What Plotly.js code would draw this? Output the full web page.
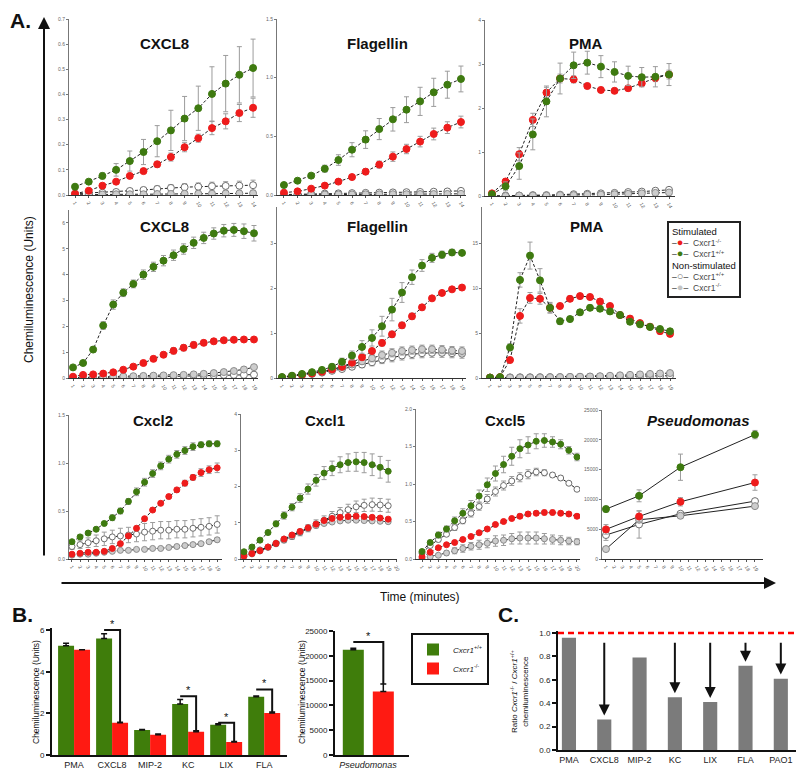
<!DOCTYPE html>
<html>
<head>
<meta charset="utf-8">
<script src="https://cdn.plot.ly/plotly-3.0.1.min.js"></script>
<style>body{margin:0;background:#fff}#chart{width:800px;height:777px}</style>
</head>
<body>
<div id="chart"></div>
<script>
// ---------- time points ----------
const t14 = [1,2,3,4,5,6,7,8,9,10,11,12,13,14];
const t19 = [1,2,3,4,5,6,7,8,9,10,11,12,13,14,15,16,17,18,19];
const t20 = [1,2,3,4,5,6,7,8,9,10,11,12,13,14,15,16,17,18,19,20];
const tPseudo = [1,5,10,19];

// ---------- A, top row (14 min) ----------
const topCxcl8Red    = [0.005,0.017,0.037,0.053,0.076,0.095,0.122,0.151,0.190,0.226,0.266,0.293,0.326,0.347];
const topCxcl8RedErr = [0.003,0.004,0.005,0.006,0.008,0.010,0.012,0.016,0.018,0.016,0.026,0.030,0.034,0.038];
const topCxcl8Grn    = [0.033,0.053,0.076,0.100,0.135,0.171,0.214,0.257,0.304,0.345,0.402,0.443,0.478,0.505];
const topCxcl8GrnErr = [0.006,0.008,0.012,0.025,0.040,0.050,0.062,0.080,0.088,0.088,0.108,0.112,0.112,0.115];
const topCxcl8Wht    = [0.005,0.008,0.009,0.012,0.016,0.020,0.024,0.028,0.031,0.033,0.035,0.036,0.037,0.039];
const topCxcl8WhtErr = [0.003,0.004,0.005,0.006,0.008,0.010,0.012,0.013,0.014,0.015,0.016,0.017,0.018,0.020];
const topCxcl8Gry    = [0.001,0.002,0.002,0.003,0.003,0.003,0.004,0.004,0.005,0.005,0.005,0.006,0.006,0.007];
const topCxcl8GryErr = [0.001,0.001,0.001,0.002,0.002,0.002,0.002,0.002,0.003,0.003,0.003,0.003,0.003,0.003];

const topFlaRed    = [0.020,0.031,0.054,0.080,0.114,0.153,0.199,0.259,0.327,0.392,0.455,0.520,0.574,0.622];
const topFlaRedErr = [0.005,0.008,0.010,0.012,0.015,0.020,0.025,0.030,0.040,0.040,0.045,0.050,0.050,0.050];
const topFlaGrn    = [0.085,0.122,0.165,0.224,0.298,0.386,0.472,0.562,0.645,0.727,0.798,0.875,0.940,0.989];
const topFlaGrnErr = [0.010,0.015,0.020,0.030,0.045,0.060,0.075,0.090,0.100,0.110,0.120,0.120,0.115,0.110];
const topFlaWht    = [0.004,0.007,0.010,0.012,0.014,0.016,0.018,0.020,0.022,0.024,0.026,0.028,0.030,0.035];
const topFlaWhtErr = [0.003,0.004,0.005,0.006,0.007,0.008,0.009,0.010,0.011,0.012,0.013,0.014,0.015,0.016];
const topFlaGry    = [0.001,0.002,0.003,0.004,0.005,0.005,0.006,0.006,0.007,0.007,0.008,0.008,0.009,0.010];
const topFlaGryErr = [0.001,0.001,0.002,0.002,0.002,0.003,0.003,0.003,0.003,0.004,0.004,0.004,0.004,0.005];

const topPmaRed    = [0.06,0.33,0.95,1.73,2.35,2.67,2.65,2.50,2.41,2.39,2.45,2.56,2.68,2.76];
const topPmaRedErr = [0.02,0.06,0.15,0.15,0.12,0.10,0.08,0.06,0.06,0.06,0.06,0.06,0.08,0.10];
const topPmaGrn    = [0.04,0.22,0.68,1.40,2.15,2.67,2.97,3.03,2.94,2.82,2.73,2.70,2.71,2.76];
const topPmaGrnErr = [0.02,0.10,0.30,0.35,0.35,0.35,0.30,0.26,0.25,0.23,0.22,0.22,0.23,0.25];
const topPmaWht    = [0.00,0.01,0.01,0.02,0.02,0.03,0.04,0.05,0.06,0.07,0.09,0.10,0.12,0.14];
const topPmaWhtErr = [0.01,0.01,0.01,0.01,0.01,0.02,0.02,0.02,0.02,0.02,0.03,0.03,0.03,0.04];
const topPmaGry    = [0.00,0.00,0.01,0.01,0.01,0.02,0.02,0.03,0.03,0.04,0.05,0.06,0.07,0.08];
const topPmaGryErr = [0.01,0.01,0.01,0.01,0.01,0.01,0.01,0.01,0.02,0.02,0.02,0.02,0.02,0.02];

// ---------- A, middle row (19 min) ----------
const midCxcl8Red    = [0.05,0.12,0.14,0.17,0.22,0.32,0.44,0.58,0.74,0.90,1.05,1.17,1.28,1.36,1.42,1.46,1.48,1.49,1.49];
const midCxcl8RedErr = [0.02,0.03,0.03,0.04,0.05,0.06,0.07,0.08,0.10,0.10,0.12,0.12,0.12,0.10,0.10,0.08,0.08,0.06,0.06];
const midCxcl8Grn    = [0.41,0.58,1.10,2.03,2.84,3.30,3.64,4.00,4.30,4.54,4.75,4.99,5.23,5.42,5.59,5.70,5.73,5.68,5.60];
const midCxcl8GrnErr = [0.05,0.05,0.10,0.15,0.18,0.15,0.15,0.18,0.18,0.20,0.20,0.20,0.22,0.22,0.22,0.24,0.25,0.28,0.30];
const midCxcl8Wht    = [0.00,0.01,0.01,0.02,0.02,0.03,0.04,0.04,0.05,0.06,0.07,0.08,0.09,0.10,0.11,0.12,0.12,0.12,0.13];
const midCxcl8WhtErr = [0.01,0.01,0.01,0.01,0.01,0.02,0.02,0.02,0.02,0.02,0.02,0.02,0.03,0.03,0.03,0.03,0.03,0.03,0.03];
const midCxcl8Gry    = [0.01,0.02,0.03,0.04,0.05,0.06,0.07,0.08,0.09,0.10,0.11,0.12,0.14,0.16,0.19,0.23,0.27,0.33,0.42];
const midCxcl8GryErr = [0.01,0.01,0.01,0.01,0.01,0.01,0.02,0.02,0.02,0.02,0.02,0.02,0.03,0.03,0.03,0.03,0.04,0.04,0.04];

const midFlaRed    = [0.01,0.04,0.07,0.10,0.14,0.19,0.25,0.34,0.46,0.60,0.78,0.97,1.17,1.37,1.57,1.77,1.89,1.97,2.01];
const midFlaRedErr = [0.01,0.01,0.02,0.02,0.02,0.03,0.03,0.04,0.05,0.06,0.07,0.07,0.07,0.07,0.06,0.05,0.05,0.04,0.04];
const midFlaGrn    = [0.02,0.05,0.09,0.13,0.18,0.25,0.36,0.50,0.69,0.89,1.15,1.52,1.90,2.24,2.50,2.67,2.74,2.79,2.78];
const midFlaGrnErr = [0.02,0.02,0.03,0.03,0.04,0.06,0.08,0.10,0.14,0.18,0.22,0.25,0.22,0.16,0.13,0.10,0.08,0.07,0.05];
const midFlaWht    = [0.01,0.04,0.06,0.09,0.12,0.16,0.20,0.25,0.30,0.35,0.41,0.46,0.50,0.53,0.55,0.56,0.56,0.55,0.54];
const midFlaWhtErr = [0.01,0.01,0.02,0.02,0.03,0.04,0.05,0.06,0.07,0.08,0.09,0.10,0.10,0.10,0.10,0.10,0.10,0.10,0.10];
const midFlaGry    = [0.02,0.05,0.08,0.11,0.15,0.19,0.24,0.30,0.37,0.44,0.51,0.56,0.60,0.62,0.64,0.64,0.63,0.61,0.60];
const midFlaGryErr = [0.01,0.01,0.02,0.02,0.03,0.04,0.05,0.06,0.07,0.08,0.09,0.09,0.09,0.09,0.09,0.09,0.09,0.09,0.09];

const midPmaRed    = [0.05,0.10,2.00,6.90,8.90,8.80,7.80,8.00,8.80,9.10,9.00,8.50,8.00,7.00,6.60,6.10,5.70,5.20,4.90];
const midPmaRedErr = [0.05,0.10,0.30,0.80,0.60,0.60,0.50,0.30,0.30,0.30,0.30,0.30,0.30,0.30,0.30,0.30,0.30,0.30,0.30];
const midPmaGrn    = [0.05,0.10,3.40,10.90,13.60,10.85,7.80,6.30,6.55,7.30,7.80,7.70,7.40,7.00,6.25,5.96,5.67,5.44,5.19];
const midPmaGrnErr = [0.05,0.10,0.40,0.80,1.50,1.30,0.60,0.35,0.30,0.30,0.30,0.30,0.30,0.30,0.30,0.30,0.30,0.30,0.30];
const midPmaWht    = [0.05,0.06,0.07,0.08,0.08,0.09,0.10,0.10,0.11,0.12,0.13,0.14,0.15,0.16,0.17,0.18,0.20,0.22,0.25];
const midPmaWhtErr = [0.05,0.05,0.05,0.05,0.05,0.05,0.05,0.05,0.05,0.05,0.05,0.05,0.05,0.05,0.05,0.05,0.05,0.05,0.05];
const midPmaGry    = [0.00,0.02,0.04,0.05,0.06,0.07,0.09,0.10,0.12,0.14,0.17,0.20,0.25,0.30,0.35,0.40,0.45,0.50,0.55];
const midPmaGryErr = [0.05,0.05,0.05,0.05,0.05,0.05,0.05,0.05,0.05,0.05,0.06,0.06,0.06,0.07,0.07,0.08,0.08,0.09,0.10];

// ---------- A, bottom row ----------
const cxcl2Red    = [0.05,0.06,0.07,0.07,0.08,0.11,0.16,0.24,0.32,0.42,0.51,0.58,0.65,0.72,0.79,0.85,0.90,0.93,0.95];
const cxcl2RedErr = [0.01,0.01,0.01,0.01,0.01,0.02,0.02,0.02,0.02,0.02,0.02,0.02,0.02,0.02,0.03,0.03,0.04,0.04,0.05];
const cxcl2Grn    = [0.18,0.23,0.27,0.31,0.37,0.43,0.50,0.60,0.70,0.80,0.89,0.97,1.04,1.09,1.13,1.17,1.19,1.20,1.20];
const cxcl2GrnErr = [0.01,0.02,0.02,0.02,0.02,0.03,0.03,0.03,0.04,0.04,0.04,0.04,0.04,0.04,0.04,0.04,0.03,0.03,0.03];
const cxcl2Wht    = [0.13,0.15,0.17,0.19,0.21,0.23,0.24,0.25,0.26,0.28,0.29,0.30,0.30,0.31,0.31,0.32,0.33,0.34,0.36];
const cxcl2WhtErr = [0.03,0.04,0.05,0.06,0.07,0.07,0.08,0.08,0.08,0.09,0.09,0.09,0.09,0.09,0.09,0.09,0.09,0.09,0.09];
const cxcl2Gry    = [0.04,0.05,0.05,0.06,0.07,0.08,0.09,0.09,0.10,0.10,0.11,0.11,0.12,0.13,0.14,0.15,0.16,0.18,0.20];
const cxcl2GryErr = [0.005,0.005,0.005,0.005,0.006,0.006,0.007,0.007,0.008,0.008,0.009,0.009,0.01,0.01,0.01,0.012,0.014,0.016,0.02];

const cxcl1Red    = [0.08,0.15,0.23,0.33,0.43,0.55,0.66,0.76,0.86,0.96,1.06,1.12,1.15,1.17,1.18,1.17,1.15,1.13,1.10];
const cxcl1RedErr = [0.02,0.02,0.02,0.03,0.03,0.03,0.04,0.04,0.04,0.05,0.05,0.05,0.05,0.05,0.05,0.05,0.05,0.05,0.05];
const cxcl1Grn    = [0.20,0.33,0.52,0.73,0.97,1.20,1.43,1.68,1.93,2.17,2.37,2.50,2.60,2.66,2.68,2.66,2.60,2.53,2.42];
const cxcl1GrnErr = [0.03,0.04,0.05,0.06,0.08,0.10,0.10,0.12,0.14,0.16,0.18,0.20,0.22,0.24,0.26,0.28,0.30,0.30,0.30];
const cxcl1Wht    = [0.12,0.17,0.25,0.33,0.42,0.52,0.62,0.73,0.85,0.97,1.07,1.18,1.28,1.36,1.44,1.48,1.50,1.49,1.47];
const cxcl1WhtErr = [0.03,0.03,0.04,0.05,0.06,0.07,0.08,0.09,0.10,0.11,0.12,0.13,0.14,0.15,0.16,0.17,0.18,0.18,0.18];
const cxcl1Gry    = [0.07,0.14,0.22,0.32,0.44,0.55,0.66,0.75,0.84,0.92,0.98,1.02,1.05,1.07,1.07,1.06,1.05,1.04,1.03];
const cxcl1GryErr = [0.02,0.02,0.02,0.03,0.03,0.03,0.03,0.03,0.03,0.03,0.03,0.03,0.03,0.03,0.03,0.03,0.03,0.03,0.03];

const cxcl5Red    = [0.03,0.09,0.15,0.19,0.22,0.26,0.30,0.35,0.40,0.46,0.50,0.54,0.57,0.60,0.61,0.62,0.62,0.61,0.60,0.57];
const cxcl5RedErr = [0.01,0.01,0.01,0.02,0.02,0.02,0.02,0.02,0.02,0.02,0.02,0.02,0.03,0.03,0.03,0.03,0.03,0.03,0.03,0.03];
const cxcl5Grn    = [0.10,0.22,0.32,0.40,0.51,0.61,0.71,0.84,0.99,1.14,1.26,1.37,1.47,1.52,1.57,1.58,1.56,1.53,1.45,1.36];
const cxcl5GrnErr = [0.02,0.03,0.04,0.04,0.05,0.06,0.07,0.08,0.09,0.10,0.11,0.12,0.12,0.11,0.10,0.09,0.07,0.06,0.05,0.05];
const cxcl5Wht    = [0.08,0.18,0.26,0.33,0.42,0.51,0.61,0.70,0.80,0.90,0.98,1.04,1.09,1.13,1.16,1.15,1.12,1.08,1.01,0.93];
const cxcl5WhtErr = [0.02,0.02,0.03,0.03,0.04,0.04,0.05,0.05,0.06,0.06,0.06,0.06,0.06,0.06,0.05,0.04,0.03,0.03,0.02,0.02];
const cxcl5Gry    = [0.01,0.03,0.05,0.08,0.11,0.14,0.17,0.19,0.21,0.24,0.25,0.27,0.28,0.28,0.28,0.27,0.26,0.25,0.24,0.23];
const cxcl5GryErr = [0.01,0.01,0.02,0.03,0.04,0.05,0.05,0.06,0.06,0.07,0.07,0.07,0.08,0.08,0.08,0.07,0.06,0.06,0.05,0.04];

const pseudoRed    = [4970,7140,9600,12830];
const pseudoRedErr = [800,900,700,1300];
const pseudoGrn    = [8370,10600,15400,20870];
const pseudoGrnErr = [500,1000,2200,700];
const pseudoWht    = [4020,5800,7590,9710];
const pseudoWhtErr = [900,2300,300,300];
const pseudoGry    = [1670,6580,7250,8870];
const pseudoGryErr = [300,300,300,300];

// ---------- B ----------
const bCats      = ["PMA","CXCL8","MIP-2","KC","LIX","FLA"];
const bGrn       = [5.25,5.60,1.20,2.45,1.45,2.80];
const bGrnErr    = [0.12,0.22,0.02,0.22,0.05,0.03];
const bRed       = [5.05,1.55,0.97,1.12,0.62,2.02];
const bRedErr    = [0.00,0.02,0.04,0.04,0.03,0.04];
const bSigIdx    = [1,3,4,5];
const bSigTop    = [6.0,2.82,1.55,3.15];
const bPseudoGrn = [21200];
const bPseudoGrnErr = [300];
const bPseudoRed = [12800];
const bPseudoRedErr = [1500];
const bPseudoSigTop = 22800;

// ---------- C ----------
const cCats  = ["PMA","CXCL8","MIP-2","KC","LIX","FLA","PAO1"];
const cRatio = [0.96,0.26,0.79,0.45,0.41,0.72,0.61];
const cArrowIdx = [1,3,4,5,6];
const cRef = 1.0;

// ---------- styling ----------
const FONT = "Liberation Sans, Arial, sans-serif";
const RED = "#ee1c1c", GREEN = "#3e7a10", GREYFILL = "#cdcdcd";
const W = 800, H = 777;
const xd = (a, b) => [a / W, b / W];
const yd = (top, bot) => [1 - bot / H, 1 - top / H];
const ax = n => (n === 1 ? "" : String(n));

const data = [];
const annotations = [];
const layout = {
  width: W, height: H, autosize: false,
  margin: {l: 0, r: 0, t: 0, b: 0},
  paper_bgcolor: "#fff", plot_bgcolor: "rgba(0,0,0,0)",
  font: {family: FONT, color: "#222"},
  showlegend: true,
  legend: {
    x: 411 / W, y: 1 - 633 / H, xanchor: "left", yanchor: "top",
    bordercolor: "#111", borderwidth: 2, bgcolor: "#fff",
    font: {size: 8, family: FONT, color: "#222"}, itemwidth: 30
  },
  annotations
};

// paper-anchored text helper
function label(x, y, text, size, extra) {
  annotations.push(Object.assign({
    xref: "paper", yref: "paper", x: x / W, y: 1 - y / H,
    xanchor: "center", yanchor: "middle", text, showarrow: false,
    font: {size, family: FONT, color: "#111"}
  }, extra || {}));
}

const timePanels = [
  {n: 1, title: "CXCL8", tx: 164, ty: 43, px: [69, 258], py: [19, 195], xr: [0.56, 14.36], yr: [0, 0.7], dt: 0.1, fmt: ".1f", t: t14, ms: 7,
   s: [topCxcl8Red, topCxcl8RedErr, topCxcl8Grn, topCxcl8GrnErr, topCxcl8Wht, topCxcl8WhtErr, topCxcl8Gry, topCxcl8GryErr]},
  {n: 2, title: "Flagellin", tx: 377, ty: 43, px: [277, 466], py: [19, 195], xr: [0.49, 14.37], yr: [0, 1.5], dt: 0.5, fmt: ".1f", t: t14, ms: 7,
   s: [topFlaRed, topFlaRedErr, topFlaGrn, topFlaGrnErr, topFlaWht, topFlaWhtErr, topFlaGry, topFlaGryErr]},
  {n: 3, title: "PMA", tx: 586, ty: 43, px: [485, 675], py: [20, 196], xr: [0.49, 14.44], yr: [0, 4], dt: 1, fmt: "d", t: t14, ms: 7,
   s: [topPmaRed, topPmaRedErr, topPmaGrn, topPmaGrnErr, topPmaWht, topPmaWhtErr, topPmaGry, topPmaGryErr]},
  {n: 4, title: "CXCL8", tx: 164, ty: 226, px: [69, 258], py: [210, 378], xr: [0.6, 19.4], yr: [0, 6.5], dt: 1, fmt: "d", t: t19, ms: 7,
   s: [midCxcl8Red, midCxcl8RedErr, midCxcl8Grn, midCxcl8GrnErr, midCxcl8Wht, midCxcl8WhtErr, midCxcl8Gry, midCxcl8GryErr]},
  {n: 5, title: "Flagellin", tx: 377, ty: 226, px: [277, 466], py: [207, 378], xr: [0.5, 19.4], yr: [0, 3.8], dt: 1, fmt: "d", t: t19, ms: 7,
   s: [midFlaRed, midFlaRedErr, midFlaGrn, midFlaGrnErr, midFlaWht, midFlaWhtErr, midFlaGry, midFlaGryErr]},
  {n: 6, title: "PMA", tx: 587, ty: 226, px: [482, 676], py: [207, 378], xr: [0.2, 19.6], yr: [0, 19], dt: 5, fmt: "d", t: t19, ms: 7,
   s: [midPmaRed, midPmaRedErr, midPmaGrn, midPmaGrnErr, midPmaWht, midPmaWhtErr, midPmaGry, midPmaGryErr]},
  {n: 7, title: "Cxcl2", tx: 153, ty: 421, px: [69, 222], py: [415, 559], xr: [0.63, 19.6], yr: [0, 1.5], dt: 0.5, fmt: ".1f", t: t19, ms: 6,
   s: [cxcl2Red, cxcl2RedErr, cxcl2Grn, cxcl2GrnErr, cxcl2Wht, cxcl2WhtErr, cxcl2Gry, cxcl2GryErr]},
  {n: 8, title: "Cxcl1", tx: 325, ty: 421, px: [241, 397], py: [414, 559], xr: [0.63, 20.1], yr: [0, 4], dt: 1, fmt: "d", t: t19, ms: 6,
   s: [cxcl1Red, cxcl1RedErr, cxcl1Grn, cxcl1GrnErr, cxcl1Wht, cxcl1WhtErr, cxcl1Gry, cxcl1GryErr]},
  {n: 9, title: "Cxcl5", tx: 505, ty: 421, px: [416, 580], py: [409, 559], xr: [0.26, 20.37], yr: [0, 2], dt: 0.5, fmt: ".1f", t: t20, ms: 6,
   s: [cxcl5Red, cxcl5RedErr, cxcl5Grn, cxcl5GrnErr, cxcl5Wht, cxcl5WhtErr, cxcl5Gry, cxcl5GryErr]},
  {n: 10, title: "<i>Pseudomonas</i>", tx: 698, ty: 421, px: [602, 763], py: [410, 559], xr: [0.52, 19.97], yr: [0, 25000], dt: 5000, fmt: "d", t: tPseudo, ms: 7, solid: true,
   s: [pseudoRed, pseudoRedErr, pseudoGrn, pseudoGrnErr, pseudoWht, pseudoWhtErr, pseudoGry, pseudoGryErr]}
];

const groups = [
  // [series index, fill, outline]
  [4, "#ffffff", "#6d6d6d"],
  [6, GREYFILL, "#8a8a8a"],
  [0, RED, RED],
  [2, GREEN, GREEN]
];

timePanels.forEach(p => {
  const k = ax(p.n);
  groups.forEach(g => {
    data.push({
      type: "scatter", mode: "lines+markers",
      x: p.t, y: p.s[g[0]],
      xaxis: "x" + k, yaxis: "y" + k,
      line: {color: "#222", width: 1, dash: p.solid ? "solid" : "3px,2px"},
      marker: {size: p.ms, color: g[1], line: {color: g[2], width: 1}},
      error_y: {type: "data", array: p.s[g[0] + 1], color: "#9c9c9c", thickness: 1, width: 2.5},
      showlegend: false, hoverinfo: "skip"
    });
  });
  layout["xaxis" + k] = {
    domain: xd(p.px[0], p.px[1]), range: p.xr, anchor: "y" + k,
    showline: true, linecolor: "#333", linewidth: 1, zeroline: false, showgrid: false,
    ticks: "outside", ticklen: 2, tickcolor: "#555",
    tickmode: "linear", tick0: 1, dtick: 1, tickangle: 60,
    tickfont: {size: 5, color: "#555"}
  };
  layout["yaxis" + k] = {
    domain: yd(p.py[0], p.py[1]), range: p.yr, anchor: "x" + k,
    showline: true, linecolor: "#777", linewidth: 1, zeroline: false, showgrid: false,
    ticks: "outside", ticklen: 2, tickcolor: "#777",
    tickmode: "linear", tick0: 0, dtick: p.dt, tickformat: p.fmt,
    tickfont: {size: 5, color: "#666"}
  };
  label(p.tx, p.ty, "<b>" + p.title + "</b>", 15);
});

// key for the time courses (boxed annotation)
const key = (c, glyph) => '<span style="color:#333">–</span><span style="color:' + c + ';font-size:11px">' + glyph +
  '</span><span style="color:#333">–</span>';
label(667, 221, [
  '<span style="font-size:9.5px">Stimulated</span>',
  key(RED, "●") + '  <span style="color:#444">Cxcr1<sup>-/-</sup></span>',
  key(GREEN, "●") + '  <span style="color:#444">Cxcr1<sup>+/+</sup></span>',
  '<span style="font-size:9.5px">Non-stimulated</span>',
  key("#777", "○") + '  <span style="color:#444">Cxcr1<sup>+/+</sup></span>',
  key("#c4c4c4", "●") + '  <span style="color:#444">Cxcr1<sup>-/-</sup></span>'
].join("<br>"), 8.6, {xanchor: "left", yanchor: "top", align: "left", bordercolor: "#222", borderwidth: 2, borderpad: 3, bgcolor: "#fff"});

// ---------- B: grouped bars ----------
const bX = bCats.map((c, i) => i);
const barErr = (arr, base) => ({type: "data", symmetric: false, array: arr, arrayminus: base.map(() => 0), color: "#111", thickness: 1.5, width: 3});
data.push({
  type: "bar", x: bX, y: bGrn, offset: -0.42, width: 0.42,
  xaxis: "x11", yaxis: "y11", marker: {color: "#3f7d0b"},
  error_y: barErr(bGrnErr, bGrn),
  name: "<i>Cxcr1</i><sup>+/+</sup>", hoverinfo: "skip"
});
data.push({
  type: "bar", x: bX, y: bRed, offset: 0, width: 0.42,
  xaxis: "x11", yaxis: "y11", marker: {color: "#ff1a12"},
  error_y: barErr(bRedErr, bRed),
  name: "<i>Cxcr1</i><sup>-/-</sup>", hoverinfo: "skip"
});
bSigIdx.forEach((i, j) => {
  data.push({
    type: "scatter", mode: "lines", xaxis: "x11", yaxis: "y11",
    x: [i - 0.21, i + 0.21, i + 0.21], y: [bSigTop[j], bSigTop[j], bRed[i] + bRedErr[i]],
    line: {color: "#111", width: 2}, showlegend: false, hoverinfo: "skip"
  });
  annotations.push({xref: "x11", yref: "y11", x: i, y: bSigTop[j], yshift: 6, xanchor: "center", yanchor: "middle",
    text: "*", showarrow: false, font: {size: 11, color: "#111"}});
});
layout.xaxis11 = {
  domain: xd(52, 287), range: [-0.58, 5.6], anchor: "y11",
  showline: true, linecolor: "#111", linewidth: 2, zeroline: false, showgrid: false,
  tickvals: bX, ticktext: bCats, ticks: "", tickfont: {size: 9, color: "#222"}
};
layout.yaxis11 = {
  domain: yd(628.4, 755), range: [0, 6.08], anchor: "x11",
  showline: true, linecolor: "#111", linewidth: 2, zeroline: false, showgrid: false,
  ticks: "outside", ticklen: 4, tickwidth: 2, tickcolor: "#111",
  tickmode: "linear", tick0: 0, dtick: 2, tickfont: {size: 8, color: "#222"}
};

// ---------- B: Pseudomonas bars ----------
data.push({
  type: "bar", x: [0], y: bPseudoGrn, offset: -0.42, width: 0.35,
  xaxis: "x12", yaxis: "y12", marker: {color: "#3f7d0b"},
  error_y: barErr(bPseudoGrnErr, bPseudoGrn), showlegend: false, hoverinfo: "skip"
});
data.push({
  type: "bar", x: [0], y: bPseudoRed, offset: 0.08, width: 0.35,
  xaxis: "x12", yaxis: "y12", marker: {color: "#ff1a12"},
  error_y: barErr(bPseudoRedErr, bPseudoRed), showlegend: false, hoverinfo: "skip"
});
data.push({
  type: "scatter", mode: "lines", xaxis: "x12", yaxis: "y12",
  x: [-0.245, 0.255, 0.255], y: [bPseudoSigTop, bPseudoSigTop, bPseudoRed[0] + bPseudoRedErr[0]],
  line: {color: "#111", width: 2}, showlegend: false, hoverinfo: "skip"
});
annotations.push({xref: "x12", yref: "y12", x: 0, y: bPseudoSigTop, yshift: 6, xanchor: "center", yanchor: "middle",
  text: "*", showarrow: false, font: {size: 11, color: "#111"}});
layout.xaxis12 = {
  domain: xd(335, 409), range: [-0.55, 0.683], anchor: "y12",
  showline: true, linecolor: "#111", linewidth: 2, zeroline: false, showgrid: false,
  tickvals: [0], ticktext: ["<i>Pseudomonas</i>"], ticks: "", tickfont: {size: 9, color: "#222"}
};
layout.yaxis12 = {
  domain: yd(631, 755), range: [0, 25000], anchor: "x12",
  showline: true, linecolor: "#111", linewidth: 2, zeroline: false, showgrid: false,
  ticks: "outside", ticklen: 4, tickwidth: 2, tickcolor: "#111",
  tickmode: "linear", tick0: 0, dtick: 5000, tickformat: "d", tickfont: {size: 8, color: "#222"}
};

// ---------- C ----------
const cX = cCats.map((c, i) => i);
const cRange = [-0.31, 6.43];
data.push({
  type: "bar", x: cX, y: cRatio, width: 0.4,
  xaxis: "x13", yaxis: "y13", marker: {color: "#7b7b7b"},
  showlegend: false, hoverinfo: "skip"
});
data.push({
  type: "scatter", mode: "lines", xaxis: "x13", yaxis: "y13",
  x: cRange, y: [cRef, cRef], line: {color: "#ff0000", width: 2.5, dash: "6px,4px"},
  showlegend: false, hoverinfo: "skip"
});
cArrowIdx.forEach(i => {
  annotations.push({
    xref: "x13", yref: "y13", axref: "x13", ayref: "y13",
    x: i, y: cRatio[i] + 0.035, ax: i, ay: 0.93,
    text: "", showarrow: true, arrowhead: 2, arrowsize: 1.1, arrowwidth: 2, arrowcolor: "#111"
  });
});
layout.xaxis13 = {
  domain: xd(558, 796), range: cRange, anchor: "y13",
  showline: true, linecolor: "#111", linewidth: 2, zeroline: false, showgrid: false,
  tickvals: cX, ticktext: cCats, ticks: "", tickfont: {size: 9, color: "#222"}
};
layout.yaxis13 = {
  domain: yd(630.7, 750), range: [0, 1.02], anchor: "x13",
  showline: true, linecolor: "#111", linewidth: 2, zeroline: false, showgrid: false,
  ticks: "outside", ticklen: 4, tickwidth: 2, tickcolor: "#111",
  tickmode: "linear", tick0: 0, dtick: 0.2, tickformat: ".1f", tickfont: {size: 8, color: "#222"}
};

// ---------- frame texts and arrows ----------
label(20, 20, "<b>A.</b>", 21);
label(22, 614, "<b>B.</b>", 21);
label(508, 614, "<b>C.</b>", 21);
label(29, 290, "Chemiluminescence (Units)", 12, {textangle: -90});
label(420, 597, "Time (minutes)", 12);
label(36, 692, "Chemiluminescence (Units)", 8.5, {textangle: -90});
label(302, 692, "Chemiluminescence (Units)", 8.5, {textangle: -90});
label(519, 692, "Ratio <i>Cxcr1</i><sup>-/-</sup> / <i>Cxcr1</i><sup>+/+</sup><br>chemiluminescence", 8, {textangle: -90});
annotations.push(
  {xref: "paper", yref: "paper", x: 44 / W, y: 1 - 17 / H, ax: 0, ay: 540, text: "", showarrow: true, arrowhead: 2, arrowsize: 1.2, arrowwidth: 2, arrowcolor: "#111"},
  {xref: "paper", yref: "paper", x: 776 / W, y: 1 - 583 / H, ax: -716, ay: 0, text: "", showarrow: true, arrowhead: 2, arrowsize: 1.2, arrowwidth: 2, arrowcolor: "#111"}
);

Plotly.newPlot("chart", data, layout, {displayModeBar: false, staticPlot: true});
</script>
</body>
</html>
